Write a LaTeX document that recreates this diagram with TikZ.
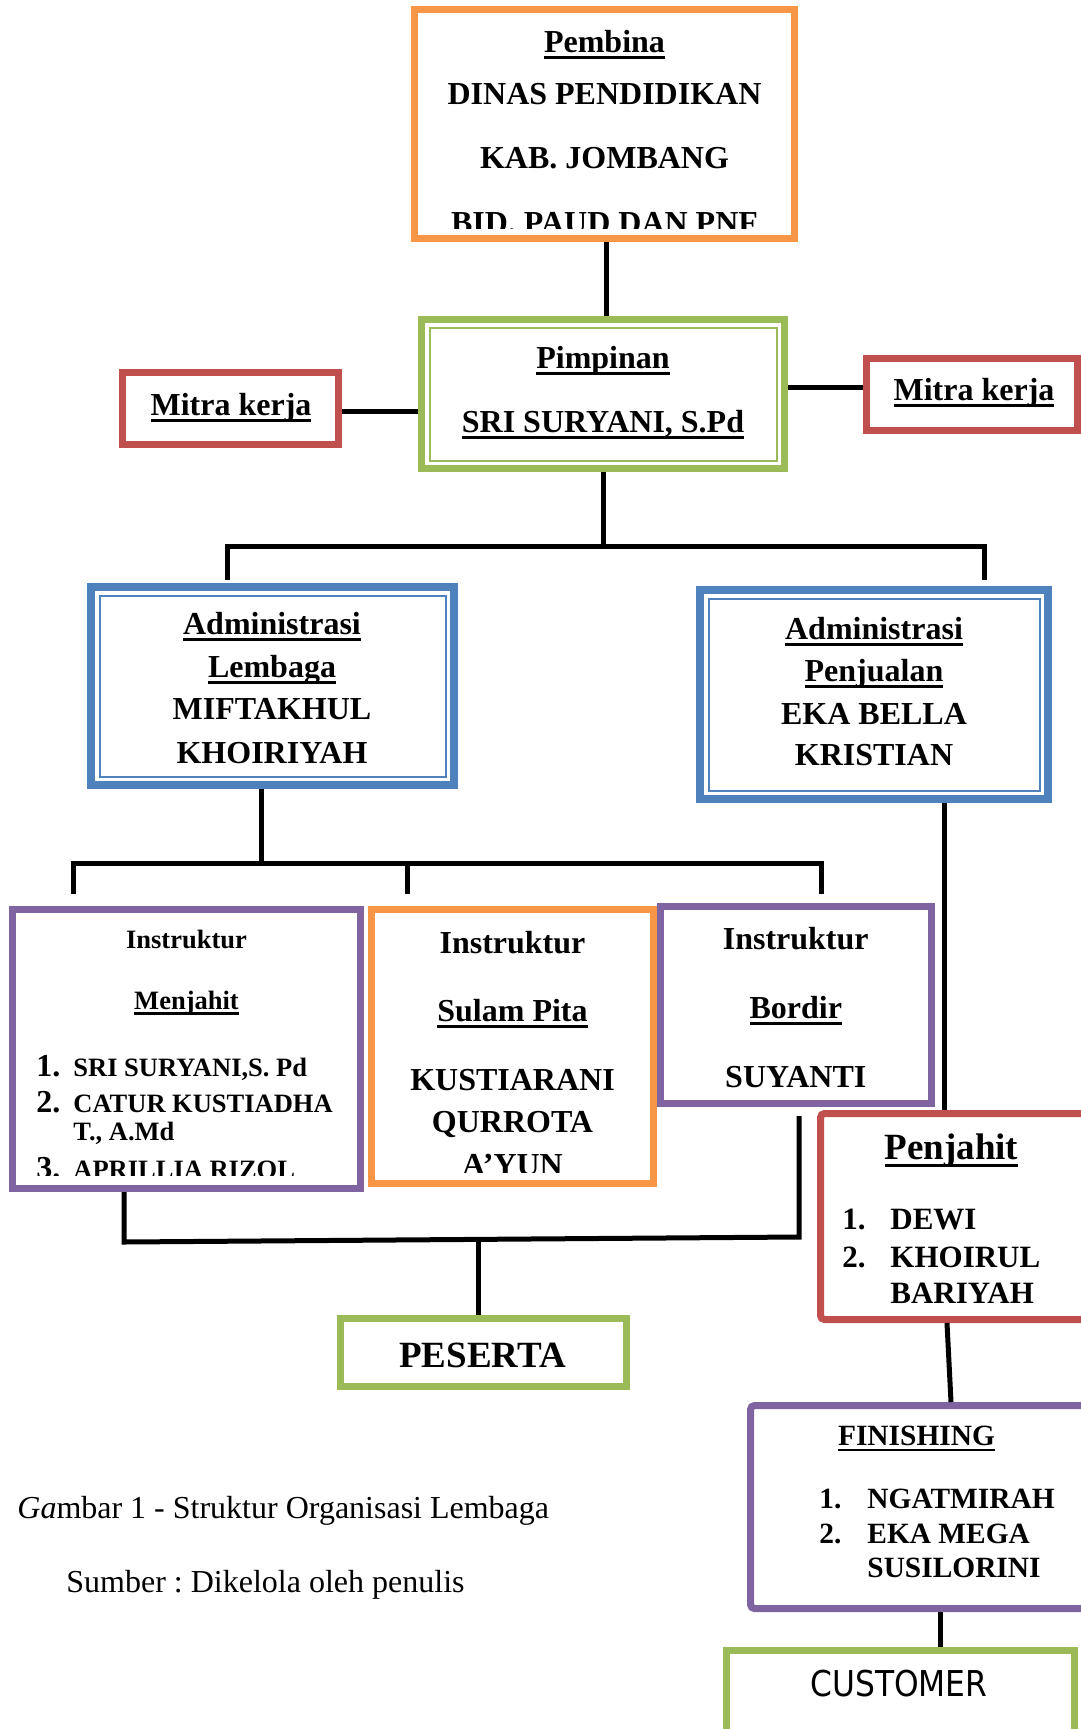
\documentclass[tikz,border=0pt]{standalone}
\usepackage{fontspec}
\setmainfont{Liberation Serif}
\newfontfamily\custfont[FakeStretch=0.88]{DejaVu Sans}
\definecolor{cOr}{HTML}{F79646}
\definecolor{cGr}{HTML}{9BBB59}
\definecolor{cRd}{HTML}{C0504D}
\definecolor{cBl}{HTML}{4F81BD}
\definecolor{cPu}{HTML}{8064A2}
\frenchspacing
\newcommand\ulx[1]{\setbox0\hbox{#1}\rlap{\rule[-0.22em]{\wd0}{0.09em}}\box0}
\newcommand\fM{\fontsize{16pt}{19pt}\selectfont\bfseries}
\newcommand\fS{\fontsize{13.25pt}{16pt}\selectfont\bfseries}
\newcommand\fL{\fontsize{18.5pt}{22pt}\selectfont\bfseries}
\newcommand\fP{\fontsize{15.5pt}{18pt}\selectfont\bfseries}
\newcommand\fF{\fontsize{14.7pt}{17pt}\selectfont\bfseries}
\newcommand\fR{\fontsize{16pt}{19pt}\selectfont}
\newcommand\fC{\fontsize{17.8pt}{21pt}\selectfont\custfont}
\begin{document}
\begin{tikzpicture}[x=0.5pt,y=-0.5pt,
  box/.style={draw, line width=3.5pt, inner sep=0pt},
  sz/.style 2 args={minimum width=#1*0.5pt, minimum height=#2*0.5pt},
  conn/.style={line width=2.5pt, black},
  t/.style={inner sep=0pt, anchor=base, font=\fM},
  tl/.style={inner sep=0pt, anchor=base west, font=\fM}]
\clip (0,0) rectangle (1081,1729);
% boxes
\node[box, draw=cOr, sz={380}{229}] (pembina) at (604.5,124) {};
\node[box, draw=cGr, sz={363}{149}] (pimpinan) at (603,394) {};
\draw[cGr, line width=1pt] ([shift={(11.5,11.5)}]pimpinan.north west) rectangle ([shift={(-11.5,-11.5)}]pimpinan.south east);
\node[box, draw=cRd, sz={216}{72}] (mitraL) at (230.5,408.5) {};
\node[box, draw=cRd, sz={211}{72}] (mitraR) at (972,394.5) {};
\node[box, draw=cBl, line width=4pt, sz={363}{198}] (adminL) at (272.5,686) {};
\draw[cBl, line width=1pt] ([shift={(12.5,12.5)}]adminL.north west) rectangle ([shift={(-12.5,-12.5)}]adminL.south east);
\node[box, draw=cBl, line width=4pt, sz={348}{209}] (adminR) at (874,694.5) {};
\draw[cBl, line width=1pt] ([shift={(12.5,12.5)}]adminR.north west) rectangle ([shift={(-12.5,-12.5)}]adminR.south east);
\node[box, draw=cPu, sz={348}{279}] (menjahit) at (186.5,1049) {};
\node[box, draw=cOr, sz={282}{274}] (sulam) at (512.5,1046.5) {};
\node[box, draw=cPu, sz={270.5}{197}] (bordir) at (795.75,1005) {};
\node[box, draw=cRd, rounded corners=2pt, sz={269.5}{206}] (penjahit) at (955.25,1216.5) {};
\node[box, draw=cGr, sz={285.5}{68}] (peserta) at (483.25,1352.5) {};
\node[box, draw=cPu, rounded corners=2pt, sz={339.5}{203}] (finishing) at (920.25,1507) {};
\node[box, draw=cGr, sz={348.5}{109.5}] (customer) at (900.25,1705.25) {};
% connectors
\coordinate (k1) at (606,0);
\draw[conn] (pembina.south -| k1) -- (pimpinan.north -| k1);
\coordinate (hL) at (0,411);
\draw[conn] (mitraL.east |- hL) -- (pimpinan.west |- hL);
\coordinate (hR) at (0,387);
\draw[conn] (pimpinan.east |- hR) -- (mitraR.west |- hR);
\coordinate (j1) at (603,546);
\coordinate (b1L) at (227,546);
\coordinate (b1R) at (984,546);
\coordinate (d1L) at (227,580);
\coordinate (d1R) at (984,580);
\draw[conn] (pimpinan.south) -- (j1);
\draw[conn] (d1L) -- (b1L) -- (b1R) -- (d1R);
\coordinate (j2) at (261,863);
\draw[conn] (adminL.south -| j2) -- (j2);
\coordinate (b2L) at (73,863);
\coordinate (b2M) at (407,863);
\coordinate (b2R) at (821,863);
\coordinate (d2L) at (73,894);
\coordinate (d2M) at (407,894);
\coordinate (d2R) at (821,894);
\draw[conn] (d2L) -- (b2L) -- (b2R) -- (d2R);
\draw[conn] (b2M) -- (d2M);
\coordinate (v3) at (944,0);
\draw[conn] (adminR.south -| v3) -- (penjahit.north -| v3);
\coordinate (b3L) at (124,1242);
\coordinate (b3R) at (799,1237);
\coordinate (t3) at (799,1116);
\coordinate (b3M) at (478.5,1239.5);
\draw[conn] (menjahit.south -| b3L) -- (b3L) -- (b3R) -- (t3);
\draw[conn] (b3M) -- (peserta.north -| b3M);
\coordinate (v5a) at (947,0);
\coordinate (v5b) at (951,0);
\draw[conn] (penjahit.south -| v5a) -- (finishing.north -| v5b);
\coordinate (v6) at (940,0);
\draw[conn] (finishing.south -| v6) -- (customer.north -| v6);
% texts
\begin{scope}
\clip (418,13) rectangle (791,228);
\node[t] (pembinaT1) at (604.5,52) {\ulx{Pembina}};
\node[t] (pembinaT2) at (604.5,104) {DINAS PENDIDIKAN};
\node[t] (pembinaT3) at (604.5,168) {KAB. JOMBANG};
\node[t] (pembinaT4) at (604.5,233) {BID. PAUD DAN PNF};
\end{scope}
\node[t] (pimT1) at (603,368) {\ulx{Pimpinan}};
\node[t] (pimT2) at (603,432) {\ulx{SRI SURYANI, S.Pd}};
\node[t] (mitraLT) at (231,415) {\ulx{Mitra kerja}};
\node[t] (mitraRT) at (974,400) {\ulx{Mitra kerja}};
\node[t] (adLT1) at (272,634) {\ulx{Administrasi}};
\node[t] (adLT2) at (272,677) {\ulx{Lembaga}};
\node[t] (adLT3) at (272,719) {MIFTAKHUL};
\node[t] (adLT4) at (272,763) {KHOIRIYAH};
\node[t] (adRT1) at (874,639) {\ulx{Administrasi}};
\node[t] (adRT2) at (874,681) {\ulx{Penjualan}};
\node[t] (adRT3) at (874,724) {EKA BELLA};
\node[t] (adRT4) at (874,765) {KRISTIAN};
\begin{scope}
\clip (16,913) rectangle (357,1175);
\node[t, font=\fS] (mjT1) at (186.5,948) {Instruktur};
\node[t, font=\fS] (mjT2) at (186.5,1009) {\ulx{Menjahit}};
\node[tl] (mjN1) at (36,1076) {1.};
\node[tl, font=\fS] (mjL1) at (73,1076) {SRI SURYANI,S. Pd};
\node[tl] (mjN2) at (36,1112) {2.};
\node[tl, font=\fS] (mjL2) at (73,1112) {CATUR KUSTIADHA};
\node[tl, font=\fS] (mjL2b) at (73,1140) {T., A.Md};
\node[tl] (mjN3) at (36,1178) {3.};
\node[tl, font=\fS] (mjL3) at (73,1178) {APRILLIA RIZQL};
\end{scope}
\begin{scope}
\clip (375,913) rectangle (650,1172);
\node[t] (spT1) at (512.5,953) {Instruktur};
\node[t] (spT2) at (512.5,1021) {\ulx{Sulam Pita}};
\node[t] (spT3) at (512.5,1090) {KUSTIARANI};
\node[t] (spT4) at (512.5,1132) {QURROTA};
\node[t] (spT5) at (512.5,1175) {A’YUN};
\end{scope}
\node[t] (bdT1) at (795.75,949) {Instruktur};
\node[t] (bdT2) at (795.75,1018) {\ulx{Bordir}};
\node[t] (bdT3) at (795.75,1087) {SUYANTI};
\node[t, font=\fL] (pjT) at (951.5,1159) {\ulx{Penjahit}};
\node[tl, font=\fP] (pjN1) at (842,1229) {1.};
\node[tl, font=\fP] (pjL1) at (890,1229) {DEWI};
\node[tl, font=\fP] (pjN2) at (842,1267) {2.};
\node[tl, font=\fP] (pjL2) at (890,1267) {KHOIRUL};
\node[tl, font=\fP] (pjL2b) at (890,1303) {BARIYAH};
\node[t, font=\fL] (psT) at (482.5,1367) {PESERTA};
\node[t, font=\fF] (fnT) at (916.5,1445) {\ulx{FINISHING}};
\node[tl, font=\fF] (fnN1) at (819,1508) {1.};
\node[tl, font=\fF] (fnL1) at (867,1508) {NGATMIRAH};
\node[tl, font=\fF] (fnN2) at (819,1543) {2.};
\node[tl, font=\fF] (fnL2) at (867,1543) {EKA MEGA};
\node[tl, font=\fF] (fnL2b) at (867,1577) {SUSILORINI};
\node[t, font=\fC] (cuT) at (899,1696) {CUSTOMER};
\node[tl, font=\fR] (cap1) at (17,1518) {{\itshape Ga}mbar 1 - Struktur Organisasi Lembaga};
\node[tl, font=\fR] (cap2) at (66,1592) {Sumber : Dikelola oleh penulis};
\end{tikzpicture}
\end{document}
